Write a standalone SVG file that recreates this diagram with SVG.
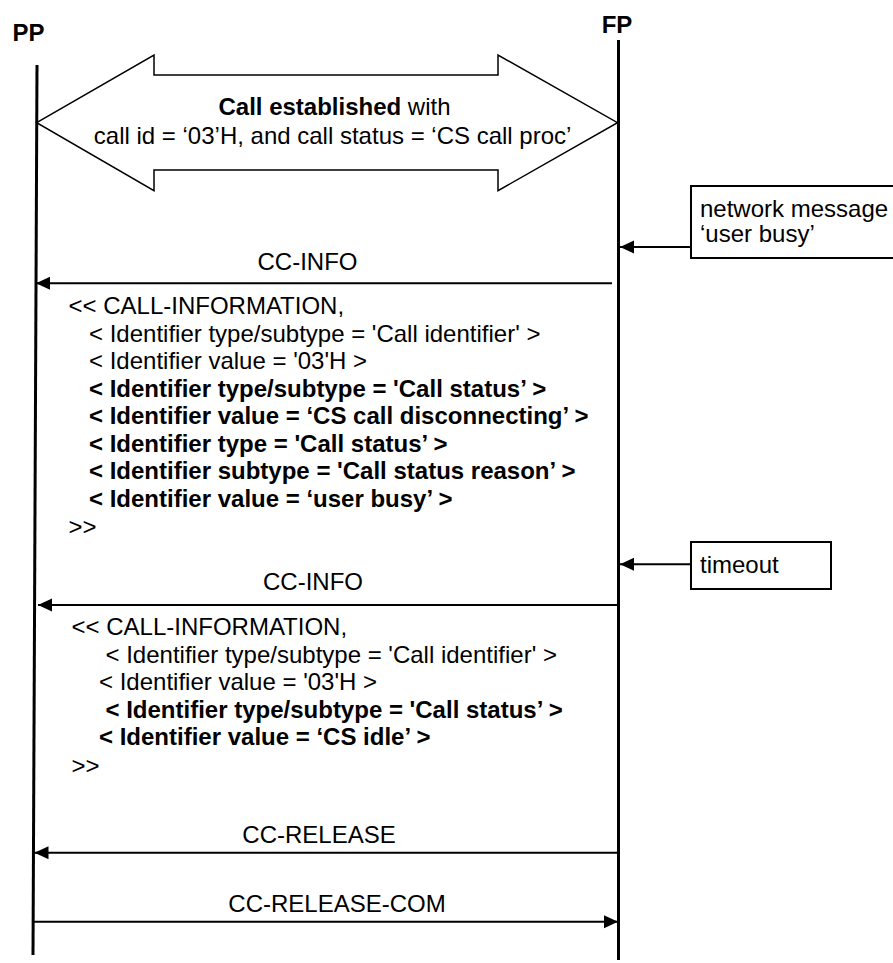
<svg xmlns="http://www.w3.org/2000/svg" width="893" height="963" viewBox="0 0 893 963">
<style>
text{font-family:"Liberation Sans",Arial,sans-serif;font-size:24px;fill:#000}
.b{font-weight:bold}
.life{stroke:#000;stroke-width:3;fill:none}
.msg{stroke:#000;stroke-width:2;fill:none;marker-end:url(#ah)}
.box{fill:#fff;stroke:#000;stroke-width:2}
.mid{text-anchor:middle}
</style>
<defs>
<marker id="ah" markerUnits="userSpaceOnUse" markerWidth="15" markerHeight="14" refX="14" refY="6.5" orient="auto">
<path d="M0,0 L14,6.5 L0,13 z" fill="#000"/>
</marker>
</defs>
<g id="PP">
<text class="b mid" x="28.5" y="40.5">PP</text>
<line class="life" x1="37" y1="65" x2="33" y2="955"/>
</g>
<g id="FP">
<text class="b mid" x="617" y="33">FP</text>
<line class="life" x1="618.5" y1="40" x2="618.5" y2="960"/>
</g>
<g id="call-established">
<polygon points="36.7,122.7 154,55 154,75 498,75 498,55 617.5,122.7 498,190.7 498,170 154,170 154,190.7" fill="#fff" stroke="#000" stroke-width="1.5"/>
<text class="mid" x="334.5" y="115"><tspan class="b">Call established</tspan> with</text>
<text class="mid" x="332.6" y="144">call id = ‘03’H, and call status = ‘CS call proc’</text>
</g>
<g id="network-message">
<rect class="box" x="691" y="186" width="215" height="72"/>
<text x="700" y="217">network message</text>
<text x="700" y="242">‘user busy’</text>
</g>
<g id="timeout">
<rect class="box" x="691" y="542" width="140" height="47"/>
<text x="700" y="573">timeout</text>
</g>
<g id="connectors">
<line class="msg" x1="691" y1="247" x2="620" y2="247"/>
<line class="msg" x1="612" y1="283.3" x2="36" y2="283.3"/>
<line class="msg" x1="691" y1="564.3" x2="620" y2="564.3"/>
<line class="msg" x1="618" y1="605" x2="38" y2="605"/>
<line class="msg" x1="618" y1="852.7" x2="34.5" y2="852.7"/>
<line class="msg" x1="34" y1="921.7" x2="618" y2="921.7"/>
</g>
<g id="msg1-labels">
<text class="mid" x="307.5" y="270">CC-INFO</text>
<text x="68.5" y="314">&lt;&lt; CALL-INFORMATION,</text>
<text x="89" y="341.5">&lt; Identifier type/subtype = 'Call identifier' &gt;</text>
<text x="89" y="369">&lt; Identifier value = '03'H &gt;</text>
<text class="b" x="89" y="396.5">&lt; Identifier type/subtype = 'Call status’ &gt;</text>
<text class="b" x="89" y="424">&lt; Identifier value = ‘CS call disconnecting’ &gt;</text>
<text class="b" x="89" y="451.5">&lt; Identifier type = 'Call status’ &gt;</text>
<text class="b" x="89" y="479">&lt; Identifier subtype = 'Call status reason’ &gt;</text>
<text class="b" x="89" y="506.5">&lt; Identifier value = ‘user busy’ &gt;</text>
<text x="68.5" y="535">&gt;&gt;</text>
</g>
<g id="msg2-labels">
<text class="mid" x="313" y="590">CC-INFO</text>
<text x="71.5" y="635">&lt;&lt; CALL-INFORMATION,</text>
<text x="105.5" y="663">&lt; Identifier type/subtype = 'Call identifier' &gt;</text>
<text x="99" y="690">&lt; Identifier value = '03'H &gt;</text>
<text class="b" x="105.5" y="718">&lt; Identifier type/subtype = 'Call status’ &gt;</text>
<text class="b" x="99" y="745">&lt; Identifier value = ‘CS idle’ &gt;</text>
<text x="71.5" y="774">&gt;&gt;</text>
</g>
<g id="msg3-labels">
<text class="mid" x="319" y="843">CC-RELEASE</text>
<text class="mid" x="337" y="911.5">CC-RELEASE-COM</text>
</g>
</svg>
